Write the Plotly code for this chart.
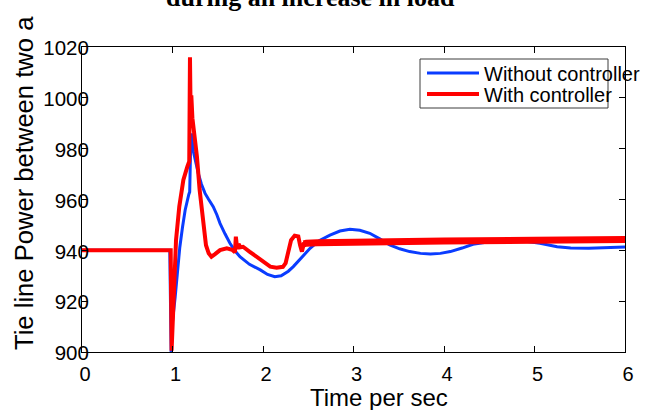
import plotly.graph_objects as go

# Without controller (blue)
blue_t = [0, 0.97, 0.985, 1.0, 1.03, 1.055, 1.08, 1.11, 1.14, 1.18, 1.19, 1.2, 1.21, 1.23,
          1.26, 1.285, 1.32, 1.36, 1.40, 1.45, 1.49, 1.525, 1.58, 1.635, 1.69, 1.745, 1.85,
          1.97, 2.05, 2.13, 2.2, 2.28, 2.335, 2.42, 2.52, 2.62, 2.74, 2.85, 2.96, 3.07, 3.18,
          3.29, 3.40, 3.51, 3.62, 3.74, 3.85, 3.96, 4.07, 4.2, 4.32, 4.5, 4.7, 4.88, 5.06,
          5.25, 5.4, 5.6, 5.8, 6.0]
blue_p = [940, 940, 900, 912, 921.8, 932, 941, 949, 955.9, 962, 963, 980, 986, 979,
          973.5, 970.3, 966, 962.4, 960, 957.2, 954, 950.6, 946.5, 942.8, 939.8, 937.5, 934.5,
          932.3, 930.5, 929.6, 930.0, 931.8, 933.6, 937, 940.8, 943.8, 946, 947.6, 948.3, 947.9, 946.7,
          944.5, 942.1, 940.6, 939.5, 938.8, 938.6, 938.8, 939.5, 940.9, 942.4, 943.4, 943.8, 943.7, 942.8,
          941.4, 940.9, 940.8, 941.0, 941.3]

# With controller (red)
red_t = [0, 0.98, 0.99, 1.005, 1.017, 1.039, 1.075, 1.12, 1.164, 1.185, 1.193, 1.2, 1.208,
         1.22, 1.25, 1.27, 1.30, 1.34, 1.37, 1.40, 1.43, 1.47, 1.525, 1.6, 1.66, 1.69, 1.70,
         1.715, 1.73, 1.75, 1.78, 1.85, 1.93, 2.0, 2.08, 2.15, 2.22, 2.25, 2.28, 2.31, 2.35,
         2.39, 2.41, 2.43, 2.45, 2.48, 2.6, 3.0, 4.0, 5.0, 6.0]
red_p = [940, 940, 900.5, 915, 931, 944, 957.2, 967.7, 972.9, 975, 1016, 995, 1001,
         992, 983, 976.8, 963.7, 949.3, 942, 938.8, 937.5, 938.5, 940.1, 940.8, 940.2, 939.2, 945.4,
         940.5, 942.5, 941.2, 941.4, 939.5, 937.5, 935.5, 933.6, 933.2, 933.5, 935, 940, 944, 945.8,
         945.5, 942, 939.5, 942.5, 942.8, 943, 943.3, 943.7, 944, 944.3]

x_ticks = [0, 1, 2, 3, 4, 5, 6]
y_ticks = [900, 920, 940, 960, 980, 1000, 1020]

BLUE = "rgb(10,60,255)"
RED = "rgb(255,0,0)"
FONT = "Liberation Sans, Arial, sans-serif"

tail = red_t.index(2.45)

fig = go.Figure()
fig.add_trace(go.Scatter(x=blue_t, y=blue_p, mode="lines", name="Without controller",
                         line=dict(color=BLUE, width=3), legend="legend"))
fig.add_trace(go.Scatter(x=red_t, y=red_p, mode="lines", name="With controller",
                         line=dict(color=RED, width=4), legend="legend2"))
fig.add_trace(go.Scatter(x=red_t[tail:], y=red_p[tail:], mode="lines", showlegend=False,
                         line=dict(color=RED, width=7)))

axis_common = dict(showgrid=False, zeroline=False, showline=True, linecolor="black",
                   linewidth=1, mirror="ticks", ticks="inside", ticklen=6, tickcolor="black",
                   automargin=False)

fig.update_xaxes(range=[0, 6], tickvals=x_ticks, ticktext=[str(v) for v in x_ticks],
                 ticklabelstandoff=4, ticklabelshift=3,
                 tickfont=dict(family=FONT, size=20, color="black"), **axis_common)
fig.update_yaxes(range=[900, 1020], tickvals=y_ticks, ticktext=[str(v) for v in y_ticks],
                 ticklabelstandoff=-12, ticklabelshift=1,
                 tickfont=dict(family=FONT, size=20.5, color="black"), **axis_common)

legend_common = dict(xanchor="left", yanchor="middle", bgcolor="rgba(0,0,0,0)",
                     borderwidth=0, itemwidth=52,
                     font=dict(family=FONT, size=20, color="black"))

def px_x(p):
    return (p - 82) / 543.0

def px_y(p):
    return (352 - p) / 305.0

fig.update_layout(
    width=651, height=410,
    margin=dict(l=82, r=26, t=47, b=58, autoexpand=False),
    paper_bgcolor="white", plot_bgcolor="white",
    showlegend=True,
    legend=dict(x=px_x(422), y=px_y(73), **legend_common),
    legend2=dict(x=px_x(422), y=px_y(94), **legend_common),
    shapes=[dict(type="rect", xref="paper", yref="paper", x0=px_x(420), x1=px_x(608),
                 y0=px_y(108), y1=px_y(59), line=dict(color="rgb(60,60,60)", width=1),
                 fillcolor="rgba(0,0,0,0)", layer="above")],
    annotations=[
        dict(text="<b>during an increase in load</b>", xref="paper", yref="paper",
             x=px_x(310), y=px_y(-3), xanchor="center", yanchor="middle", showarrow=False,
             font=dict(family="Liberation Serif, Times New Roman, serif", size=26, color="black")),
        dict(text="Tie line Power between two a", xref="paper", yref="paper",
             x=px_x(24), y=px_y(352), xanchor="center", yanchor="bottom", textangle=-90,
             showarrow=False, font=dict(family=FONT, size=25.6, color="black")),
        dict(text="Time per sec", xref="paper", yref="paper",
             x=px_x(379), y=px_y(382), xanchor="center", yanchor="top", showarrow=False,
             font=dict(family=FONT, size=24, color="black")),
    ],
)

fig.write_html("out.html", config={"displayModeBar": False},
               post_script="document.body.style.margin='0';")
